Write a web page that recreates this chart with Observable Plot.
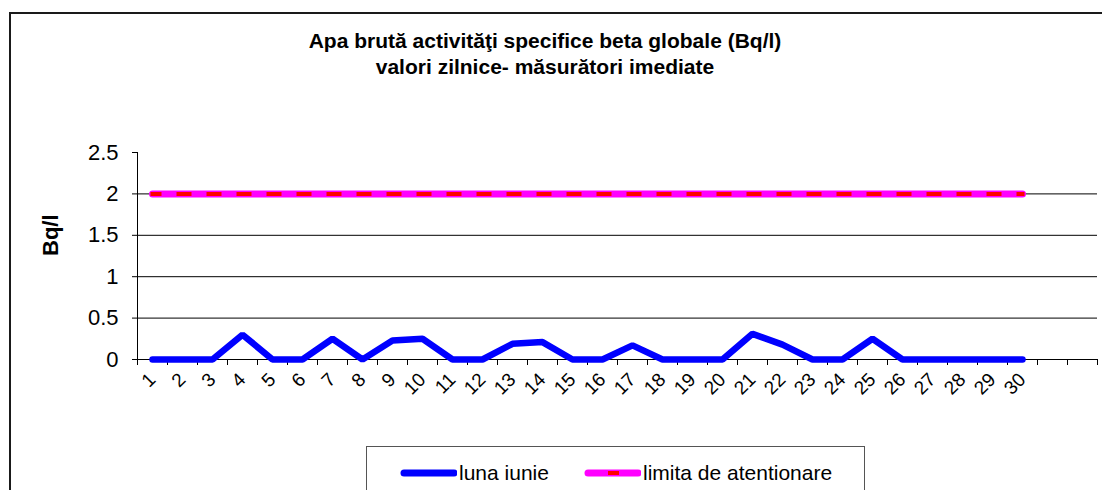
<!DOCTYPE html>
<html><head><meta charset="utf-8">
<script src="https://cdn.jsdelivr.net/npm/d3@7"></script>
<script src="https://cdn.jsdelivr.net/npm/@observablehq/plot@0.6"></script>
<style>
body{margin:0;background:#fff;font-family:"Liberation Sans",Arial,sans-serif;}
#wrap{position:relative;width:1102px;height:490px;overflow:hidden;background:#fff;}
#chart{position:absolute;left:0;top:0;}
#frame{position:absolute;left:9px;top:12px;width:1200px;height:600px;border:2px solid #1a1a1a;box-sizing:border-box;pointer-events:none;}
#title{position:absolute;left:195px;width:700px;top:28px;text-align:center;font-weight:bold;font-size:21px;line-height:26px;color:#000;}
#legend{position:absolute;left:366px;top:446px;width:499px;height:100px;border:1px solid #555;box-sizing:border-box;background:#fff;}
.item{position:absolute;top:14px;height:24px;display:flex;align-items:center;font-size:21px;color:#000;white-space:nowrap;}
.item svg{display:block;margin-right:2px;}
</style></head>
<body>
<div id="wrap">
  <div id="chart"></div>
  <div id="frame"></div>
  <div id="title">Apa brută activităţi specifice beta globale (Bq/l)<br>valori zilnice- măsurători imediate</div>
  <div id="legend"></div>
</div>
<script>
// ---- data ----
const days = [1,2,3,4,5,6,7,8,9,10,11,12,13,14,15,16,17,18,19,20,21,22,23,24,25,26,27,28,29,30];
const iunie = [0,0,0,0.30,0,0,0.25,0,0.23,0.25,0,0,0.19,0.21,0,0,0.17,0,0,0,0.31,0.18,0,0,0.25,0,0,0,0,0];
const limita = [2,2,2,2,2,2,2,2,2,2,2,2,2,2,2,2,2,2,2,2,2,2,2,2,2,2,2,2,2,2];
const emptySlots = 2;
const yTicks = [0,0.5,1,1.5,2,2.5];
const yTickLabels = ["0","0.5","1","1.5","2","2.5"];
const yGrid = [0.5,1,1.5,2];
const seriesNames = ["luna iunie","limita de atentionare"];
const yLabel = "Bq/l";

// ---- chart ----
const xDomain = [0.5, days.length + emptySlots + 0.5];
const boundaries = d3.range(xDomain[0], xDomain[1] + 0.01, 1);
const iunieData = days.map((d,i)=>({day:d, v:iunie[i]}));
const limitaData = days.map((d,i)=>({day:d, v:limita[i]}));

const plot = Plot.plot({
  width: 1102,
  height: 490,
  marginLeft: 137,
  marginRight: 5,
  marginTop: 152,
  marginBottom: 131,
  style: {fontFamily: '"Liberation Sans", Arial, sans-serif', background: "transparent", color: "#000"},
  x: {type: "linear", domain: xDomain, label: null},
  y: {domain: [0, 2.5], label: null},
  marks: [
    Plot.ruleY(yGrid, {stroke: "#000", strokeWidth: 1}),
    Plot.ruleY([0], {stroke: "#000", strokeWidth: 1}),
    Plot.ruleX([xDomain[0]], {stroke: "#000", strokeWidth: 1}),
    Plot.axisY(yTicks, {tickSize: 5, tickPadding: 14, fontSize: 22, stroke: "#000",
      tickFormat: d => yTickLabels[yTicks.indexOf(d)]}),
    Plot.axisX(boundaries, {tickSize: 6, tickFormat: () => "", stroke: "#000"}),
    Plot.axisX(days, {tickSize: 0, tickRotate: -45, tickPadding: 17, fontSize: 19}),
    Plot.text([yLabel], {frameAnchor: "left", dx: -87, rotate: -90, fontSize: 22, fontWeight: "bold"}),
    Plot.line(limitaData, {x: "day", y: "v", stroke: "#FF00FF", strokeWidth: 7, strokeLinecap: "round"}),
    Plot.line(limitaData, {x: "day", y: "v", stroke: "#FF0000", strokeWidth: 4, strokeLinecap: "square", strokeDasharray: "11,19", strokeDashoffset: 4}),
    Plot.line(iunieData, {x: "day", y: "v", stroke: "#0000FF", strokeWidth: 6.5, strokeLinecap: "round", strokeLinejoin: "miter"})
  ]
});
document.getElementById("chart").appendChild(plot);

// ---- legend ----
const legend = document.getElementById("legend");
const items = [
  {name: seriesNames[0], left: 33, draw: svg => {
    svg.append("line").attr("x1",4).attr("x2",54).attr("y1",12).attr("y2",12).attr("stroke","#0000FF").attr("stroke-width",7).attr("stroke-linecap","round");
  }},
  {name: seriesNames[1], left: 217, draw: svg => {
    svg.append("line").attr("x1",4).attr("x2",54).attr("y1",12).attr("y2",12).attr("stroke","#FF00FF").attr("stroke-width",7).attr("stroke-linecap","round");
    svg.append("line").attr("x1",24).attr("x2",35).attr("y1",12).attr("y2",12).attr("stroke","#FF0000").attr("stroke-width",4);
  }}
];
for (const it of items) {
  const div = d3.select(legend).append("div").attr("class","item").style("left", it.left + "px");
  const svg = div.append("svg").attr("width",57).attr("height",24);
  it.draw(svg);
  div.append("span").text(it.name);
}
</script>
</body></html>
